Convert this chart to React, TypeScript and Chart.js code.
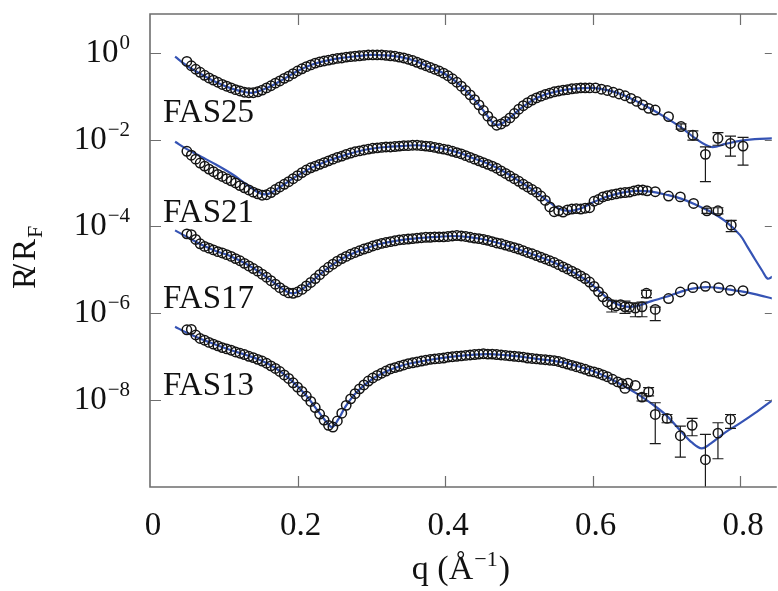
import { useEffect, useRef } from 'react';
import { Chart, registerables } from 'chart.js';

Chart.register(...registerables);

// ---------- data (R/RF given as log10 values) ----------
const qGrid = [
  0.050, 0.056, 0.062, 0.068, 0.074, 0.080, 0.086, 0.092, 0.098, 0.104,
  0.110, 0.116, 0.122, 0.128, 0.134, 0.140, 0.146, 0.152, 0.158, 0.164,
  0.170, 0.176, 0.182, 0.188, 0.194, 0.200, 0.206, 0.212, 0.218, 0.224,
  0.230, 0.236, 0.242, 0.248, 0.254, 0.260, 0.266, 0.272, 0.278, 0.284,
  0.290, 0.296, 0.302, 0.308, 0.314, 0.320, 0.326, 0.332, 0.338, 0.344,
  0.350, 0.356, 0.362, 0.368, 0.374, 0.380, 0.386, 0.392, 0.398, 0.404,
  0.410, 0.416, 0.422, 0.428, 0.434, 0.440, 0.446, 0.452, 0.458, 0.464,
  0.470, 0.476, 0.482, 0.488, 0.494, 0.500, 0.506, 0.512, 0.518, 0.524,
  0.530, 0.536, 0.542, 0.548, 0.554, 0.560, 0.566, 0.572, 0.578, 0.584,
  0.590, 0.596,
];

const fas25Log = [
  -0.20, -0.30, -0.38, -0.45, -0.52, -0.58, -0.63, -0.68, -0.73, -0.77,
  -0.81, -0.85, -0.88, -0.91, -0.92, -0.92, -0.90, -0.86, -0.81, -0.76,
  -0.70, -0.65, -0.59, -0.54, -0.48, -0.42, -0.37, -0.32, -0.28, -0.24,
  -0.21, -0.19, -0.17, -0.15, -0.13, -0.12, -0.10, -0.09, -0.08, -0.07,
  -0.06, -0.05, -0.05, -0.05, -0.05, -0.06, -0.07, -0.08, -0.10, -0.12,
  -0.15, -0.18, -0.22, -0.26, -0.30, -0.34, -0.38, -0.42, -0.47, -0.53,
  -0.60, -0.68, -0.77, -0.87, -0.97, -1.08, -1.20, -1.33, -1.46, -1.58,
  -1.67, -1.64, -1.58, -1.50, -1.40, -1.30, -1.22, -1.15, -1.09, -1.04,
  -1.00, -0.96, -0.93, -0.90, -0.88, -0.86, -0.85, -0.83, -0.82, -0.81,
  -0.81, -0.81,
];
const fas25TailQ = [0.604, 0.612, 0.620, 0.628, 0.636, 0.644, 0.652, 0.660, 0.668, 0.676, 0.685, 0.703, 0.720, 0.736, 0.753, 0.770, 0.787, 0.804];
const fas25TailLog = [-0.81, -0.84, -0.87, -0.91, -0.95, -0.99, -1.05, -1.12, -1.20, -1.28, -1.32, -1.47, -1.70, -1.90, -2.34, -1.97, -2.09, -2.15];

const fas21Log = [
  -2.27, -2.36, -2.45, -2.54, -2.61, -2.68, -2.74, -2.80, -2.85, -2.90,
  -2.95, -3.00, -3.06, -3.11, -3.16, -3.21, -3.25, -3.28, -3.27, -3.22,
  -3.15, -3.09, -3.03, -2.97, -2.90, -2.83, -2.76, -2.70, -2.65, -2.61,
  -2.57, -2.53, -2.49, -2.45, -2.41, -2.38, -2.34, -2.31, -2.28, -2.26,
  -2.24, -2.22, -2.20, -2.19, -2.18, -2.17, -2.17, -2.16, -2.15, -2.14,
  -2.14, -2.13, -2.13, -2.14, -2.15, -2.16, -2.18, -2.20, -2.22, -2.24,
  -2.27, -2.30, -2.33, -2.37, -2.41, -2.45, -2.49, -2.53, -2.57, -2.61,
  -2.66, -2.72, -2.78, -2.84, -2.90, -2.96, -3.03, -3.09, -3.15, -3.21,
  -3.30, -3.40, -3.55, -3.66, -3.64, -3.67, -3.62, -3.60, -3.59, -3.60,
  -3.58, -3.57,
];
const fas21TailQ = [0.602, 0.608, 0.614, 0.620, 0.626, 0.632, 0.638, 0.644, 0.650, 0.656, 0.662, 0.668, 0.674, 0.685, 0.703, 0.719, 0.737, 0.755, 0.770, 0.788];
const fas21TailLog = [-3.42, -3.38, -3.32, -3.29, -3.27, -3.25, -3.23, -3.22, -3.21, -3.18, -3.16, -3.16, -3.18, -3.20, -3.30, -3.32, -3.47, -3.64, -3.64, -3.97];

const fas17Log = [
  -4.17, -4.19, -4.30, -4.40, -4.46, -4.50, -4.54, -4.58, -4.61, -4.65,
  -4.69, -4.74, -4.79, -4.85, -4.91, -4.97, -5.03, -5.10, -5.17, -5.25,
  -5.33, -5.41, -5.48, -5.53, -5.54, -5.51, -5.45, -5.37, -5.29, -5.20,
  -5.11, -5.02, -4.94, -4.87, -4.80, -4.74, -4.69, -4.64, -4.60, -4.56,
  -4.52, -4.49, -4.45, -4.42, -4.39, -4.37, -4.35, -4.33, -4.31, -4.30,
  -4.29, -4.28, -4.27, -4.26, -4.25, -4.25, -4.24, -4.24, -4.24, -4.23,
  -4.22, -4.21, -4.22, -4.23, -4.25, -4.27, -4.28, -4.30, -4.32, -4.35,
  -4.38, -4.40, -4.43, -4.46, -4.49, -4.52, -4.56, -4.60, -4.63, -4.67,
  -4.71, -4.75, -4.79, -4.83, -4.88, -4.93, -4.98, -5.03, -5.08, -5.14,
  -5.20, -5.28,
];
const fas17TailQ = [0.602, 0.608, 0.614, 0.620, 0.626, 0.632, 0.638, 0.644, 0.650, 0.658, 0.667, 0.673, 0.685, 0.703, 0.719, 0.736, 0.753, 0.771, 0.787, 0.804];
const fas17TailLog = [-5.38, -5.50, -5.62, -5.74, -5.80, -5.83, -5.80, -5.85, -5.86, -5.88, -5.85, -5.54, -5.91, -5.66, -5.51, -5.41, -5.38, -5.41, -5.47, -5.48];

const fas13Log = [
  -6.38, -6.37, -6.50, -6.58, -6.62, -6.67, -6.71, -6.75, -6.79, -6.82,
  -6.85, -6.89, -6.92, -6.95, -6.99, -7.02, -7.06, -7.10, -7.15, -7.21,
  -7.27, -7.34, -7.42, -7.50, -7.60, -7.70, -7.80, -7.91, -8.03, -8.17,
  -8.32, -8.46, -8.58, -8.62, -8.48, -8.30, -8.12, -7.97, -7.85, -7.74,
  -7.65, -7.56, -7.49, -7.43, -7.38, -7.33, -7.28, -7.25, -7.22, -7.19,
  -7.16, -7.14, -7.12, -7.10, -7.08, -7.06, -7.05, -7.04, -7.03, -7.01,
  -7.00, -6.99, -6.98, -6.97, -6.96, -6.95, -6.94, -6.93, -6.94, -6.94,
  -6.95, -6.96, -6.97, -6.98, -6.99, -7.00, -7.01, -7.03, -7.04, -7.05,
  -7.06, -7.07, -7.08, -7.09, -7.11, -7.14, -7.17, -7.20, -7.23, -7.26,
  -7.29, -7.33,
];
const fas13TailQ = [0.602, 0.608, 0.614, 0.620, 0.627, 0.634, 0.640, 0.644, 0.648, 0.658, 0.667, 0.676, 0.685, 0.701, 0.719, 0.735, 0.753, 0.770, 0.787];
const fas13TailLog = [-7.35, -7.38, -7.42, -7.46, -7.52, -7.58, -7.62, -7.73, -7.61, -7.66, -7.93, -7.81, -8.33, -8.42, -8.82, -8.58, -9.37, -8.76, -8.44];

// error bars (log10 of lower / upper ends)
const fas25ErrQ = [0.720, 0.736, 0.753, 0.770, 0.787, 0.804];
const fas25ErrLo = [-1.76, -2.01, -2.97, -2.13, -2.38, -2.59];
const fas25ErrHi = [-1.64, -1.80, -2.17, -1.84, -1.92, -1.95];
const fas21ErrQ = [0.755, 0.770, 0.788];
const fas21ErrLo = [-3.70, -3.71, -4.12];
const fas21ErrHi = [-3.58, -3.57, -3.86];
const fas17ErrQ = [0.626, 0.644, 0.658, 0.667, 0.673, 0.685];
const fas17ErrLo = [-5.97, -6.00, -6.08, -6.08, -5.64, -6.17];
const fas17ErrHi = [-5.70, -5.72, -5.76, -5.74, -5.47, -5.86];
const fas13ErrQ = [0.667, 0.676, 0.685, 0.701, 0.719, 0.735, 0.753, 0.770, 0.787];
const fas13ErrLo = [-8.02, -7.90, -9.00, -8.52, -9.31, -8.82, -10.6, -9.35, -8.65];
const fas13ErrHi = [-7.85, -7.71, -8.06, -8.33, -8.60, -8.42, -8.79, -8.52, -8.33];

// fitted model curves
const fit25Q = [0.034, 0.05, 0.07, 0.09, 0.11, 0.13, 0.14, 0.16, 0.18, 0.20, 0.22, 0.24, 0.26, 0.28, 0.30, 0.32, 0.34, 0.36, 0.38, 0.40, 0.42, 0.44, 0.455, 0.465, 0.47, 0.48, 0.49, 0.50, 0.52, 0.54, 0.56, 0.58, 0.60, 0.62, 0.64, 0.66, 0.68, 0.70, 0.72, 0.74, 0.761, 0.78, 0.80, 0.82, 0.844];
const fit25Log = [-0.09, -0.30, -0.50, -0.68, -0.82, -0.91, -0.92, -0.80, -0.62, -0.42, -0.27, -0.18, -0.12, -0.08, -0.05, -0.06, -0.10, -0.19, -0.34, -0.49, -0.74, -1.08, -1.40, -1.62, -1.67, -1.60, -1.47, -1.32, -1.08, -0.94, -0.86, -0.82, -0.81, -0.86, -0.96, -1.12, -1.30, -1.50, -1.72, -1.98, -2.17, -2.10, -2.03, -1.99, -1.97];
const fit21Q = [0.034, 0.05, 0.07, 0.09, 0.11, 0.13, 0.145, 0.155, 0.165, 0.18, 0.20, 0.22, 0.24, 0.26, 0.28, 0.30, 0.32, 0.34, 0.36, 0.38, 0.40, 0.42, 0.44, 0.46, 0.48, 0.50, 0.52, 0.54, 0.555, 0.57, 0.585, 0.60, 0.62, 0.64, 0.66, 0.68, 0.70, 0.72, 0.74, 0.76, 0.78, 0.80, 0.81, 0.82, 0.83, 0.837, 0.844];
const fit21Log = [-2.05, -2.22, -2.40, -2.58, -2.78, -3.02, -3.20, -3.26, -3.22, -3.05, -2.83, -2.64, -2.50, -2.38, -2.28, -2.21, -2.17, -2.15, -2.13, -2.16, -2.22, -2.31, -2.44, -2.57, -2.74, -2.95, -3.17, -3.42, -3.60, -3.64, -3.58, -3.45, -3.31, -3.22, -3.18, -3.20, -3.27, -3.36, -3.50, -3.66, -3.88, -4.20, -4.47, -4.75, -5.02, -5.20, -5.16];
const fit17Q = [0.034, 0.05, 0.07, 0.09, 0.11, 0.13, 0.15, 0.17, 0.185, 0.193, 0.20, 0.215, 0.23, 0.25, 0.27, 0.29, 0.31, 0.33, 0.35, 0.37, 0.39, 0.41, 0.43, 0.45, 0.47, 0.49, 0.51, 0.53, 0.55, 0.57, 0.59, 0.61, 0.625, 0.64, 0.658, 0.68, 0.70, 0.72, 0.74, 0.76, 0.78, 0.80, 0.82, 0.844];
const fit17Log = [-4.09, -4.24, -4.42, -4.57, -4.69, -4.86, -5.07, -5.32, -5.50, -5.54, -5.51, -5.33, -5.11, -4.85, -4.66, -4.52, -4.41, -4.34, -4.29, -4.26, -4.24, -4.22, -4.24, -4.29, -4.37, -4.47, -4.59, -4.71, -4.85, -5.02, -5.22, -5.50, -5.72, -5.83, -5.84, -5.72, -5.62, -5.50, -5.42, -5.40, -5.44, -5.49, -5.56, -5.66];
const fit13Q = [0.034, 0.05, 0.07, 0.09, 0.11, 0.13, 0.15, 0.17, 0.19, 0.21, 0.23, 0.24, 0.247, 0.255, 0.265, 0.28, 0.30, 0.32, 0.34, 0.36, 0.38, 0.40, 0.42, 0.44, 0.46, 0.48, 0.50, 0.52, 0.54, 0.56, 0.58, 0.60, 0.62, 0.64, 0.66, 0.68, 0.70, 0.72, 0.735, 0.748, 0.76, 0.78, 0.80, 0.82, 0.844];
const fit13Log = [-6.31, -6.45, -6.60, -6.73, -6.85, -6.96, -7.08, -7.26, -7.52, -7.86, -8.30, -8.52, -8.62, -8.45, -8.15, -7.82, -7.53, -7.34, -7.21, -7.13, -7.07, -7.02, -6.98, -6.95, -6.94, -6.96, -6.99, -7.04, -7.08, -7.13, -7.22, -7.33, -7.47, -7.65, -7.85, -8.08, -8.35, -8.72, -8.98, -9.11, -9.00, -8.74, -8.53, -8.30, -8.00];

// ticks & labels
const xTickValues = [0, 0.2, 0.4, 0.6, 0.8];
const xTickLabels = ['0', '0.2', '0.4', '0.6', '0.8'];
const yTickExponents = [0, -2, -4, -6, -8];
const yTickExpLabels = ['0', '\u22122', '\u22124', '\u22126', '\u22128'];
const curveNames = ['FAS25', 'FAS21', 'FAS17', 'FAS13'];

// ---------- styling / layout ----------
const FONT = '"Liberation Serif", "Times New Roman", serif';
const BLUE = '#3553b4';
const AXIS = '#6e6e6e';
const labelAnchorQ = 0.0175;
const labelAnchorLog = [-1.6, -3.9, -5.88, -7.89];

const pts = (qs: number[], logs: number[]) => qs.map((q, i) => ({ x: q, y: Math.pow(10, logs[i]) }));

const curves = [
  { q: [...qGrid, ...fas25TailQ], log: [...fas25Log, ...fas25TailLog], fq: fit25Q, fl: fit25Log, eq: fas25ErrQ, elo: fas25ErrLo, ehi: fas25ErrHi },
  { q: [...qGrid, ...fas21TailQ], log: [...fas21Log, ...fas21TailLog], fq: fit21Q, fl: fit21Log, eq: fas21ErrQ, elo: fas21ErrLo, ehi: fas21ErrHi },
  { q: [...qGrid, ...fas17TailQ], log: [...fas17Log, ...fas17TailLog], fq: fit17Q, fl: fit17Log, eq: fas17ErrQ, elo: fas17ErrLo, ehi: fas17ErrHi },
  { q: [...qGrid, ...fas13TailQ], log: [...fas13Log, ...fas13TailLog], fq: fit13Q, fl: fit13Log, eq: fas13ErrQ, elo: fas13ErrLo, ehi: fas13ErrHi },
];

const decor = {
  id: 'decor',
  afterDatasetsDraw(chart: any) {
    const { ctx, chartArea: a, scales } = chart;
    const xs = scales.x, ys = scales.y;
    ctx.save();
    ctx.beginPath();
    ctx.rect(a.left, a.top, a.right - a.left, a.bottom - a.top);
    ctx.clip();
    ctx.strokeStyle = '#1a1a1a';
    ctx.lineWidth = 1.2;
    curves.forEach((c) => {
      c.eq.forEach((q, i) => {
        const px = xs.getPixelForValue(q);
        const y1 = ys.getPixelForValue(Math.pow(10, c.elo[i]));
        const y2 = ys.getPixelForValue(Math.pow(10, c.ehi[i]));
        ctx.beginPath();
        ctx.moveTo(px, y1); ctx.lineTo(px, y2);
        ctx.moveTo(px - 5.5, y1); ctx.lineTo(px + 5.5, y1);
        ctx.moveTo(px - 5.5, y2); ctx.lineTo(px + 5.5, y2);
        ctx.stroke();
      });
    });
    ctx.restore();
  },
  afterDraw(chart: any) {
    const { ctx, chartArea: a, scales } = chart;
    const xs = scales.x, ys = scales.y;
    ctx.save();
    // frame
    ctx.strokeStyle = AXIS;
    ctx.lineWidth = 1.6;
    ctx.beginPath();
    ctx.moveTo(a.right + 5, a.top);
    ctx.lineTo(a.left, a.top);
    ctx.lineTo(a.left, a.bottom);
    ctx.lineTo(a.right + 5, a.bottom);
    ctx.stroke();
    // ticks
    ctx.lineWidth = 1.2;
    ctx.beginPath();
    xTickValues.forEach((v) => {
      const px = Math.round(xs.getPixelForValue(v)) + 0.5;
      if (v === 0) return;
      ctx.moveTo(px, a.bottom); ctx.lineTo(px, a.bottom - 11);
      ctx.moveTo(px, a.top); ctx.lineTo(px, a.top + 11);
    });
    yTickExponents.forEach((e) => {
      const py = Math.round(ys.getPixelForValue(Math.pow(10, e))) + 0.5;
      ctx.moveTo(a.left, py); ctx.lineTo(a.left + 11, py);
      ctx.moveTo(a.right, py); ctx.lineTo(a.right - 7, py);
    });
    ctx.stroke();

    ctx.fillStyle = '#111';
    ctx.textBaseline = 'alphabetic';
    // x tick labels
    ctx.font = `33px ${FONT}`;
    ctx.textAlign = 'center';
    xTickValues.forEach((v, i) => {
      ctx.fillText(xTickLabels[i], xs.getPixelForValue(v) + 3, 535);
    });
    // y tick labels 10^e
    yTickExponents.forEach((e, i) => {
      const py = ys.getPixelForValue(Math.pow(10, e));
      ctx.textAlign = 'right';
      ctx.font = `21px ${FONT}`;
      const sup = yTickExpLabels[i];
      const sw = ctx.measureText(sup).width;
      ctx.fillText(sup, 130, py - 4);
      ctx.font = `33px ${FONT}`;
      ctx.fillText('10', 130 - sw - 1, py + 9);
    });
    // curve names
    ctx.textAlign = 'left';
    ctx.font = `33px ${FONT}`;
    curveNames.forEach((n, i) => {
      ctx.fillText(n, xs.getPixelForValue(labelAnchorQ), ys.getPixelForValue(Math.pow(10, labelAnchorLog[i])));
    });
    // x title: q (Å^-1)
    {
      const p1 = 'q (\u00C5';
      const p2 = '\u22121';
      const p3 = ')';
      ctx.font = `34px ${FONT}`;
      const w1 = ctx.measureText(p1).width;
      const w3 = ctx.measureText(p3).width;
      ctx.font = `22px ${FONT}`;
      const w2 = ctx.measureText(p2).width;
      const total = w1 + w2 + w3 + 2;
      const x0 = (a.left + a.right) / 2 - total / 2;
      ctx.textAlign = 'left';
      ctx.font = `34px ${FONT}`;
      ctx.fillText(p1, x0, 579);
      ctx.font = `22px ${FONT}`;
      ctx.fillText(p2, x0 + w1 + 1, 566);
      ctx.font = `34px ${FONT}`;
      ctx.fillText(p3, x0 + w1 + w2 + 2, 579);
    }
    // y title: R/R_F
    {
      ctx.translate(35, 289);
      ctx.rotate(-Math.PI / 2);
      ctx.textAlign = 'left';
      ctx.font = `33px ${FONT}`;
      ctx.fillText('R', 0, 0);
      ctx.fillText('/', 16, 0);
      ctx.fillText('R', 28, 0);
      ctx.font = `22px ${FONT}`;
      ctx.fillText('F', 51, 7);
    }
    ctx.restore();
  },
};

export default function App() {
  const ref = useRef<HTMLCanvasElement | null>(null);
  useEffect(() => {
    if (!ref.current) return;
    const datasets: any[] = [];
    curves.forEach((c) => {
      datasets.push({
        data: pts(c.fq, c.fl),
        showLine: true,
        borderColor: BLUE,
        borderWidth: 2.2,
        pointRadius: 0,
        tension: 0.35,
        order: 2,
      });
      datasets.push({
        data: pts(c.q, c.log),
        showLine: false,
        pointRadius: 4.7,
        pointStyle: 'circle',
        borderColor: '#141414',
        backgroundColor: 'rgba(0,0,0,0)',
        borderWidth: 1.5,
        order: 1,
      });
    });
    const chart = new Chart(ref.current, {
      type: 'scatter',
      data: { datasets },
      options: {
        animation: false,
        responsive: false,
        devicePixelRatio: 1,
        events: [],
        layout: { padding: { left: 150, top: 14, right: 0, bottom: 104 } },
        plugins: { legend: { display: false }, tooltip: { enabled: false } },
        scales: {
          x: { type: 'linear', min: 0, max: 0.843, display: false },
          y: { type: 'logarithmic', min: 1e-10, max: 7.8, display: false },
        },
      },
      plugins: [decor],
    });
    return () => chart.destroy();
  }, []);
  return (
    <div style={{ position: 'fixed', left: 0, top: 0, width: 778, height: 591, background: '#fff' }}>
      <canvas ref={ref} width={778} height={591} style={{ display: 'block' }} />
    </div>
  );
}
